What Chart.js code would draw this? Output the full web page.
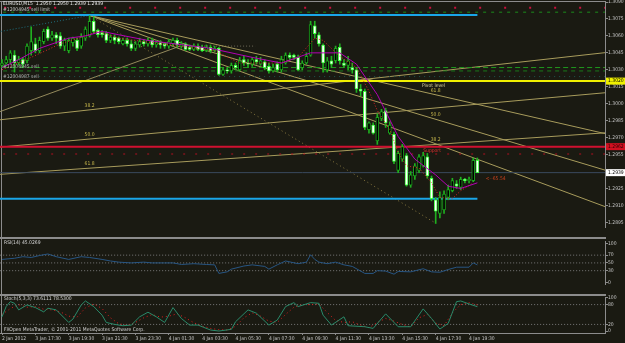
<!DOCTYPE html>
<html>
<head>
<meta charset="utf-8">
<script src="https://cdn.jsdelivr.net/npm/chart.js@4.4.1/dist/chart.umd.min.js"></script>
<style>
  html, body { margin: 0; padding: 0; background: #1a1a12; overflow: hidden; }
  #scherm { position: relative; width: 625px; height: 343px; background: #1a1a12; }
  canvas { position: absolute; left: 0; }
  .rand { position: absolute; background: #8c8c8c; }
</style>
</head>
<body>
<div id="scherm">
  <div class="rand" style="left:0;top:1px;width:606px;height:1px"></div>
  <div class="rand" style="left:1px;top:1px;width:1px;height:333px"></div>
  <div class="rand" style="left:0;top:237px;width:606px;height:2px"></div>
  <div class="rand" style="left:0;top:294px;width:606px;height:2px"></div>
  <canvas id="hoofd" width="625" height="243" style="top:-3px"></canvas>
  <canvas id="rsi" width="625" height="60" style="top:237px"></canvas>
  <canvas id="stoch" width="625" height="50" style="top:293px"></canvas>
</div>
<script>
// EURUSD M15, kaarsen per kwartier
const OPEN = [1.3034,1.3036,1.3039,1.3043,1.3036,1.3039,1.3038,1.3047,1.3053,1.3047,1.3055,1.3066,1.3058,1.3061,1.3060,1.3051,1.3047,1.3054,1.3056,1.3051,1.3058,1.3060,1.3073,1.3065,1.3063,1.3062,1.3056,1.3059,1.3058,1.3053,1.3056,1.3053,1.3049,1.3052,1.3055,1.3053,1.3056,1.3052,1.3054,1.3053,1.3051,1.3053,1.3056,1.3051,1.3053,1.3050,1.3048,1.3051,1.3050,1.3047,1.3050,1.3047,1.3049,1.3026,1.3030,1.3029,1.3034,1.3030,1.3039,1.3036,1.3035,1.3039,1.3035,1.3037,1.3033,1.3029,1.3035,1.3030,1.3036,1.3043,1.3043,1.3041,1.3032,1.3036,1.3043,1.3069,1.3061,1.3052,1.3030,1.3038,1.3038,1.3050,1.3036,1.3034,1.3032,1.3030,1.3013,1.3011,1.2977,1.2981,1.2967,1.2987,1.2994,1.2974,1.2973,1.2941,1.2951,1.2954,1.2928,1.2936,1.2941,1.2945,1.2953,1.2934,1.2915,1.2903,1.2906,1.2917,1.2923,1.2929,1.2926,1.2933,1.2932,1.2932,1.2950];
const HIGH = [1.3039,1.3042,1.3047,1.3047,1.3042,1.3041,1.3053,1.3068,1.3058,1.3059,1.3066,1.3068,1.3064,1.3063,1.3063,1.3058,1.3058,1.3059,1.3058,1.3062,1.3068,1.3078,1.3077,1.3066,1.3065,1.3064,1.3061,1.3061,1.3059,1.3058,1.3058,1.3056,1.3055,1.3058,1.3057,1.3058,1.3058,1.3056,1.3056,1.3054,1.3057,1.3058,1.3058,1.3055,1.3054,1.3052,1.3053,1.3053,1.3052,1.3052,1.3052,1.3051,1.3050,1.3032,1.3032,1.3036,1.3036,1.3041,1.3042,1.3039,1.3041,1.3042,1.3041,1.3039,1.3036,1.3035,1.3037,1.3042,1.3045,1.3045,1.3044,1.3043,1.3038,1.3045,1.3073,1.3073,1.3063,1.3053,1.3041,1.3042,1.3051,1.3053,1.3039,1.3042,1.3036,1.3032,1.3017,1.3013,1.2984,1.2983,1.2991,1.2995,1.2996,1.2984,1.2975,1.2958,1.2964,1.2956,1.2940,1.2947,1.2955,1.2957,1.2956,1.2936,1.2917,1.2922,1.2923,1.2928,1.2934,1.2932,1.2935,1.2934,1.2935,1.2952,1.2952];
const LOW = [1.3032,1.3035,1.3036,1.3028,1.3034,1.3032,1.3036,1.3043,1.3045,1.3045,1.3053,1.3056,1.3056,1.3053,1.3049,1.3047,1.3045,1.3051,1.3047,1.3049,1.3056,1.3059,1.3062,1.3059,1.3059,1.3054,1.3054,1.3053,1.3053,1.3052,1.3051,1.3047,1.3047,1.3050,1.3051,1.3051,1.3050,1.3050,1.3049,1.3049,1.3049,1.3051,1.3050,1.3049,1.3047,1.3047,1.3047,1.3047,1.3046,1.3046,1.3045,1.3046,1.3025,1.3025,1.3027,1.3027,1.3030,1.3029,1.3034,1.3032,1.3033,1.3035,1.3034,1.3030,1.3027,1.3028,1.3028,1.3028,1.3035,1.3039,1.3039,1.3029,1.3030,1.3035,1.3042,1.3058,1.3051,1.3028,1.3028,1.3032,1.3036,1.3035,1.3032,1.3030,1.3027,1.3010,1.3007,1.2977,1.2974,1.2973,1.2964,1.2985,1.2979,1.2973,1.2947,1.2939,1.2949,1.2927,1.2926,1.2933,1.2939,1.2944,1.2934,1.2914,1.2894,1.2899,1.2903,1.2915,1.2922,1.2925,1.2924,1.2930,1.2930,1.2931,1.2939];
const CLOSE = [1.3036,1.3039,1.3045,1.3036,1.3039,1.3035,1.3051,1.3055,1.3047,1.3056,1.3064,1.3058,1.3061,1.3058,1.3051,1.3056,1.3056,1.3058,1.3049,1.3059,1.3066,1.3073,1.3064,1.3061,1.3061,1.3056,1.3059,1.3056,1.3055,1.3056,1.3053,1.3049,1.3053,1.3055,1.3053,1.3056,1.3052,1.3054,1.3052,1.3051,1.3055,1.3056,1.3052,1.3053,1.3048,1.3048,1.3051,1.3048,1.3047,1.3050,1.3047,1.3049,1.3026,1.3030,1.3029,1.3034,1.3032,1.3038,1.3036,1.3035,1.3039,1.3037,1.3038,1.3032,1.3029,1.3032,1.3030,1.3039,1.3043,1.3041,1.3041,1.3030,1.3036,1.3042,1.3070,1.3062,1.3053,1.3036,1.3038,1.3035,1.3049,1.3038,1.3034,1.3038,1.3030,1.3013,1.3011,1.2979,1.2983,1.2974,1.2988,1.2993,1.2983,1.2981,1.2949,1.2956,1.2962,1.2928,1.2937,1.2945,1.2953,1.2954,1.2936,1.2916,1.2905,1.2917,1.2920,1.2924,1.2932,1.2927,1.2933,1.2932,1.2933,1.2950,1.2939];

const MA_TRAAG_IDX = [0,4,9,16,20,24,28,35,50,60,67,74,81,85,90,95,99,104,107,110,114];
const MA_TRAAG = [1.3032,1.3039,1.3049,1.3058,1.3060,1.3064,1.3061,1.3056,1.3049,1.3041,1.3036,1.3045,1.3045,1.3035,1.3008,1.2971,1.2951,1.2937,1.2927,1.2925,1.2930];
const MA_SNEL_IDX = [0,7,14,20,23,28,38,51,57,67,71,75,77,81,85,88,90,93,95,97,100,103,105,108,110,113];
const MA_SNEL = [1.3030,1.3041,1.3053,1.3060,1.3064,1.3058,1.3053,1.3047,1.3036,1.3036,1.3041,1.3058,1.3056,1.3042,1.3032,1.3011,1.2994,1.2977,1.2957,1.2945,1.2943,1.2930,1.2917,1.2916,1.2923,1.2930];

// RSI(14)
const RSI_IDX = [0,3,5,7,9,11,13,16,19,21,24,26,28,31,34,36,39,41,43,46,49,51,52,54,55,58,60,63,64,66,68,71,73,74,75,76,78,80,82,84,87,89,90,92,94,95,98,101,103,105,107,109,112,113,114];
const RSI_WAARDE = [59,62,66,64,69,73,66,59,66,64,59,55,52,50,52,50,50,50,46,48,46,45,23,27,34,42,45,41,34,45,55,48,52,71,59,52,48,52,45,41,23,23,30,29,21,28,27,35,27,26,33,39,39,50,45.03];
const RSI_NIVEAUS = [70, 50, 30];

// Stochastic(5,3,3)
const STOCH_IDX = [0,1,2,3,4,6,8,10,11,13,16,17,19,20,22,24,25,27,29,31,33,35,37,39,41,43,45,47,50,52,55,56,59,61,64,66,68,70,71,74,76,77,79,82,83,87,89,92,95,98,101,103,105,107,109,110,112,114];
const STOCH_HOOFD = [43,74,89,84,64,79,71,58,69,64,26,36,79,91,74,48,26,20,16,18,43,57,43,26,71,38,18,18,3,0,5,28,64,54,18,33,74,86,74,86,84,48,18,43,16,13,8,52,13,13,67,38,6,23,89,91,82,73.61];
const SIGNAAL_IDX = [0,2,4,6,8,10,12,14,16,18,20,22,24,26,28,30,32,34,36,38,40,42,44,46,48,50,52,54,56,58,60,62,64,66,68,70,72,74,76,78,80,82,84,86,88,90,92,94,96,98,100,102,104,106,108,110,112,114];
const STOCH_SIGNAAL = [50,68,80,72,74,66,64,58,45,42,70,82,68,40,22,17,26,40,50,42,45,52,40,25,15,8,4,3,14,40,55,45,30,26,50,72,80,80,82,56,32,26,28,18,10,26,38,30,20,12,40,50,24,16,55,80,86,78.53];
const STOCH_NIVEAUS = [80, 20];

// horizontale niveaus en orders
const ORDER_LIMIET = 1.3085;
const ORDER_DOEL = 1.3081;
const VERKOOP_1 = 1.3032;
const VERKOOP_1B = 1.3029;
const VERKOOP_2 = 1.3024;
const PIVOT = 1.3020;
const BLAUW_BOVEN = 1.30785;
const BLAUW_ONDER = 1.2916;
const ROOD_NIVEAU = 1.2962;
const ROOD_STIP = 1.29555;
const BIEDING = 1.2939;
const WINST_PRIJS = 1.2934;

// fibonacci waaiers en losse trendlijnen: [kaars, prijs]
const WAAIER_OP = { van: [-309, 1.28594], naar: [21, 1.30781] };
const WAAIER_NEER = { van: [21, 1.30781], naar: [104, 1.28943] };
const FIB_NIVEAUS = [0.382, 0.5, 0.618];
const TREND_LINKS = [[-0.5, 1.2993], [42.7, 1.3051]];
const TREND_VLAK = [[42.7, 1.3051], [60.7, 1.3051]];

const PRIJS_TICKS = [1.3090,1.3075,1.3060,1.3045,1.3030,1.3015,1.3000,1.2985,1.2970,1.2955,1.2925,1.2910,1.2895];
const TIJD_LABELS = ['2 Jan 2012','3 Jan 17:30','3 Jan 19:30','3 Jan 21:30','3 Jan 23:30','4 Jan 01:30','4 Jan 03:30','4 Jan 05:30','4 Jan 07:30','4 Jan 09:30','4 Jan 11:30','4 Jan 13:30','4 Jan 15:30','4 Jan 17:30','4 Jan 19:30'];
const TIJD_STAP = 8;

const KOP = 'EURUSD,M15  1.2950 1.2950 1.2939 1.2939';
const ORDER_TEKSTEN = ['#12004945 sell limit', '#12004945 sell', '#12004987 sell'];
const RSI_KOP = 'RSI(14) 45.0269';
const STOCH_KOP = 'Stoch(5,3,3) 73.6111 78.5300';
const VOET = 'FXOpen MetaTrader, \u00A9 2001-2011 MetaQuotes Software Corp.';

const X_MIN = -0.48, X_MAX = 144.6;
const LAATSTE = OPEN.length - 1;
const LETTER = '"DejaVu Sans Condensed", "DejaVu Sans", sans-serif';
const GRIJS = '#8c8c8c';
const LABELKLEUR = '#c4c4c4';

Chart.defaults.animation = false;
Chart.defaults.plugins.legend.display = false;
Chart.defaults.plugins.tooltip.enabled = false;
Chart.defaults.font.family = LETTER;

function schrijf(ctx, s, x, y, kleur, uitlijning = 'left', basis = 'middle') {
  ctx.fillStyle = kleur;
  ctx.textAlign = uitlijning;
  ctx.textBaseline = basis;
  ctx.fillText(s, x, y);
}

function lijn(data, kleur, dikte, streep, volgorde = 3) {
  return { type: 'line', data, borderColor: kleur, borderWidth: dikte, borderDash: streep || [],
    pointRadius: 0, fill: false, tension: 0, order: volgorde };
}

function vlak(prijs, tot = X_MAX + 5) {
  return [{ x: X_MIN - 5, y: prijs }, { x: tot, y: prijs }];
}

function punten(idx, waarden) {
  return idx.map((x, k) => ({ x, y: waarden[k] }));
}

function paar(p) {
  return p.map(([x, y]) => ({ x, y }));
}

function waaierLijnen(w) {
  const [x1, y1] = w.van, [x2, y2] = w.naar;
  return FIB_NIVEAUS.map(r => {
    const yr = y2 + r * (y1 - y2);
    const helling = (yr - y1) / (x2 - x1);
    return { r, yr, data: [{ x: x1, y: y1 }, { x: 200, y: y1 + helling * (200 - x1) }] };
  });
}

function xSchaal(zichtbaar) {
  return {
    type: 'linear', min: X_MIN, max: X_MAX, offset: false, display: zichtbaar,
    grid: { offset: false, drawOnChartArea: false, tickLength: 2, color: GRIJS },
    border: { color: GRIJS },
    afterBuildTicks: s => { s.ticks = TIJD_LABELS.map((_, k) => ({ value: k * TIJD_STAP })); },
    afterFit: s => { s.height = 9; },
    ticks: {
      autoSkip: false, maxRotation: 0, minRotation: 0, align: 'start', padding: 1,
      color: LABELKLEUR, font: { size: 5 },
      callback: v => TIJD_LABELS[Math.round(v / TIJD_STAP)]
    }
  };
}

function ySchaal(min, max, ticks, opmaak) {
  return {
    position: 'right', min, max,
    afterBuildTicks: s => { s.ticks = ticks.map(v => ({ value: v })); },
    afterFit: s => { s.width = 20; },
    grid: { drawOnChartArea: false, tickLength: 3, color: GRIJS },
    border: { color: GRIJS },
    ticks: { padding: 0, color: LABELKLEUR, font: { size: 5 }, callback: opmaak }
  };
}

function tekenHoofd() {
  const sets = [];
  sets.push(lijn(vlak(ORDER_LIMIET), '#c8103c', 2, [2, 23]));
  sets.push(lijn(vlak(ORDER_DOEL), '#1c8c1c', 1, [3, 5]));
  sets.push(lijn(vlak(VERKOOP_1), '#1e9a1e', 1, [5, 3]));
  sets.push(lijn(vlak(VERKOOP_1), '#c01030', 1, [2, 22]));
  sets.push(lijn(vlak(VERKOOP_1B), '#1a7a1a', 1, [4, 4]));
  sets.push(lijn(vlak(VERKOOP_2), '#1f5a50', 1, [1, 4]));
  sets.push(lijn(vlak(PIVOT), '#f0f000', 2));
  sets.push(lijn(vlak(BLAUW_BOVEN, LAATSTE), '#1aa6e8', 2));
  sets.push(lijn(vlak(BLAUW_ONDER, LAATSTE), '#1aa6e8', 2));
  sets.push(lijn(vlak(ROOD_NIVEAU), '#d01030', 2));
  sets.push(lijn(vlak(ROOD_STIP), '#b01020', 1, [2, 10]));
  sets.push(lijn(vlak(BIEDING), '#3a4a5e', 1));

  [WAAIER_OP, WAAIER_NEER].forEach(w => {
    waaierLijnen(w).forEach(l => sets.push(lijn(l.data, '#a89c5c', 1)));
  });
  sets.push(lijn([{ x: WAAIER_OP.van[0], y: WAAIER_OP.van[1] }, { x: WAAIER_OP.naar[0], y: WAAIER_OP.naar[1] }], '#1f6f7f', 1, [1, 2]));
  sets.push(lijn([{ x: WAAIER_NEER.van[0], y: WAAIER_NEER.van[1] }, { x: WAAIER_NEER.naar[0], y: WAAIER_NEER.naar[1] }], '#8a7a40', 1, [1, 3]));
  sets.push(lijn(paar(TREND_LINKS), '#948a5c', 1));
  sets.push(lijn(paar(TREND_VLAK), '#6e6a58', 1, [1, 2]));

  const stijgt = i => CLOSE[i] >= OPEN[i];
  sets.push({
    type: 'bar', order: 2, grouped: false, barThickness: 1, borderWidth: 0,
    backgroundColor: '#20b020',
    data: OPEN.map((_, i) => ({ x: i, y: [LOW[i], HIGH[i]] }))
  });
  sets.push({
    type: 'bar', order: 1, grouped: false, barThickness: 3, borderWidth: 1, borderSkipped: false, minBarLength: 1,
    backgroundColor: OPEN.map((_, i) => stijgt(i) ? '#000000' : '#ffffff'),
    borderColor: OPEN.map((_, i) => stijgt(i) ? '#1aa01a' : '#3cff3c'),
    data: OPEN.map((o, i) => ({ x: i, y: [o, CLOSE[i]] }))
  });

  sets.push(lijn(punten(MA_TRAAG_IDX, MA_TRAAG), '#b400b4', 1, [], 0));
  sets.push(lijn(punten(MA_SNEL_IDX, MA_SNEL), '#e02828', 1, [1, 2], 0));

  const notities = {
    id: 'notities',
    afterDatasetsDraw(chart) {
      const { ctx, scales: { x, y } } = chart;
      ctx.save();
      ctx.font = `5px ${LETTER}`;
      schrijf(ctx, KOP, 3, 7, '#e8e8e8');
      schrijf(ctx, ORDER_TEKSTEN[0], 3, 13, '#c8c8c8');
      schrijf(ctx, ORDER_TEKSTEN[1], 3, 70, '#b0b0b0');
      schrijf(ctx, ORDER_TEKSTEN[2], 3, 80, '#b0b0b0');
      [WAAIER_OP, WAAIER_NEER].forEach(w => {
        waaierLijnen(w).forEach(l => {
          schrijf(ctx, (l.r * 100).toFixed(1), x.getPixelForValue(w.naar[0]), y.getPixelForValue(l.yr) - 2, '#c8b84c', 'center', 'bottom');
        });
      });
      schrijf(ctx, 'Pivot level', x.getPixelForValue(100.7), y.getPixelForValue(PIVOT) + 2, '#d8d0a0', 'left', 'top');
      schrijf(ctx, 'Support', x.getPixelForValue(101), y.getPixelForValue(ROOD_STIP) - 1, '#e03030', 'left', 'bottom');
      schrijf(ctx, '<--65.54', x.getPixelForValue(116), y.getPixelForValue(WINST_PRIJS), '#c8401c');
      ctx.restore();
    },
    afterDraw(chart) {
      const { ctx, chartArea, scales: { y } } = chart;
      ctx.save();
      ctx.font = `5px ${LETTER}`;
      [[PIVOT, '#f0f000', '#000000'], [ROOD_NIVEAU, '#d01020', '#300000'], [BIEDING, '#ffffff', '#000000']].forEach(([p, bg, fg]) => {
        const py = y.getPixelForValue(p);
        ctx.fillStyle = bg;
        ctx.fillRect(chartArea.right + 1, py - 3.5, 19, 7);
        schrijf(ctx, p.toFixed(4), chartArea.right + 3, py, fg);
      });
      ctx.restore();
    }
  };

  new Chart(document.getElementById('hoofd'), {
    type: 'bar',
    data: { datasets: sets },
    options: {
      responsive: false, devicePixelRatio: 1,
      layout: { padding: { top: 4, bottom: 4, left: 0, right: 0 } },
      scales: {
        x: xSchaal(false),
        y: ySchaal(1.28909, 1.30909, PRIJS_TICKS, v => v.toFixed(4))
      }
    },
    plugins: [notities]
  });
}

function tekenRsi() {
  const sets = RSI_NIVEAUS.map(n => lijn(vlak(n), '#7a7a7a', 1, [1, 2]));
  sets.push(lijn(punten(RSI_IDX, RSI_WAARDE), '#285684', 1, [], 0));
  new Chart(document.getElementById('rsi'), {
    type: 'line',
    data: { datasets: sets },
    options: {
      responsive: false, devicePixelRatio: 1,
      layout: { padding: { top: 4, bottom: 4, left: 0, right: 0 } },
      scales: { x: xSchaal(false), y: ySchaal(-4.26, 106.4, [0, 30, 50, 70, 100], v => v) }
    },
    plugins: [{
      id: 'rsiKop',
      afterDraw(chart) {
        const { ctx } = chart;
        ctx.save();
        ctx.font = `5px ${LETTER}`;
        schrijf(ctx, RSI_KOP, 4, 6, '#d8d8d8');
        ctx.restore();
      }
    }]
  });
}

function tekenStoch() {
  const sets = STOCH_NIVEAUS.map(n => lijn(vlak(n), '#7a7a7a', 1, [1, 2]));
  sets.push(lijn(punten(SIGNAAL_IDX, STOCH_SIGNAAL), '#e02020', 1, [1, 3], 1));
  sets.push(lijn(punten(STOCH_IDX, STOCH_HOOFD), '#2a8a6a', 1, [], 0));
  new Chart(document.getElementById('stoch'), {
    type: 'line',
    data: { datasets: sets },
    options: {
      responsive: false, devicePixelRatio: 1,
      layout: { padding: { top: 4, bottom: 1, left: 0, right: 0 } },
      scales: { x: xSchaal(true), y: ySchaal(-6, 103, [0, 20, 80, 100], v => v) }
    },
    plugins: [{
      id: 'stochKop',
      afterDraw(chart) {
        const { ctx } = chart;
        ctx.save();
        ctx.font = `5px ${LETTER}`;
        schrijf(ctx, STOCH_KOP, 4, 6, '#d8d8d8');
        schrijf(ctx, VOET, 4, 37, '#d8d8d8');
        ctx.restore();
      }
    }]
  });
}

tekenHoofd();
tekenRsi();
tekenStoch();
</script>
</body>
</html>
